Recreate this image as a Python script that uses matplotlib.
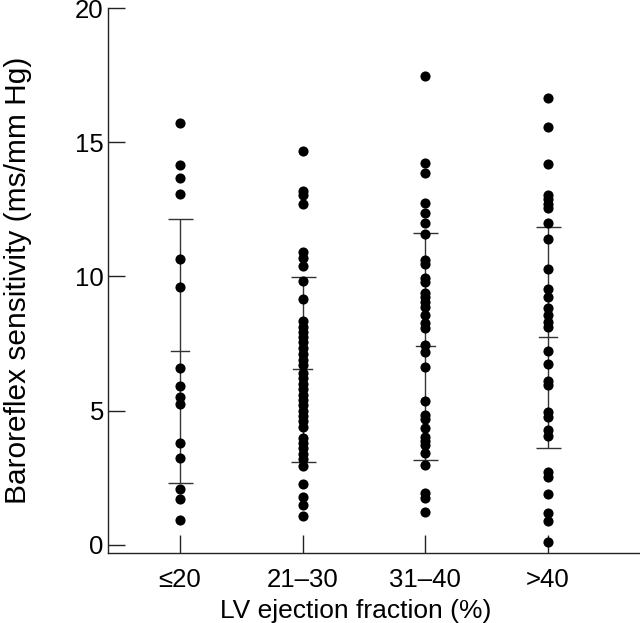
import matplotlib
matplotlib.use("Agg")
import matplotlib.pyplot as plt
import numpy as np

plt.rcParams['font.family'] = ['Liberation Sans', 'DejaVu Sans']

categories = ["≤20", "21–30", "31–40", ">40"]

group_le20 = [15.73, 14.14, 13.66, 13.06, 10.64, 9.62, 6.58, 5.92, 5.50, 5.24,
              3.81, 3.23, 2.07, 1.71, 0.93]
group_21_30 = [14.67, 13.20, 13.05, 12.70, 10.92, 10.68, 10.39, 9.83, 9.16, 8.34,
               8.13, 7.95, 7.75, 7.55, 7.35, 7.10, 6.90, 6.70, 6.40, 6.20,
               6.00, 5.80, 5.60, 5.40, 5.20, 5.00, 4.80, 4.60, 4.40, 4.00,
               3.80, 3.60, 3.40, 3.20, 2.94, 2.27, 1.80, 1.49, 1.08]
group_31_40 = [17.48, 14.21, 13.87, 12.73, 12.35, 11.98, 11.60, 10.61, 10.47, 9.93,
               9.81, 9.37, 9.25, 9.06, 8.88, 8.57, 8.26, 8.07, 7.45, 7.20,
               6.62, 5.37, 4.84, 4.68, 4.35, 4.01, 3.88, 3.72, 3.41, 2.98,
               1.93, 1.74, 1.24]
group_gt40 = [16.64, 15.58, 14.18, 13.04, 12.87, 12.70, 12.54, 12.00, 11.39, 10.27,
              9.52, 9.25, 8.84, 8.57, 8.32, 8.13, 7.24, 6.73, 6.11, 5.96,
              4.97, 4.76, 4.28, 4.07, 2.73, 2.54, 1.89, 1.20, 0.89, 0.12]

means = [7.22, 6.54, 7.40, 7.73]
sds = [4.92, 3.45, 4.23, 4.13]

groups = [group_le20, group_21_30, group_31_40, group_gt40]

fig = plt.figure(figsize=(6.4, 6.23), dpi=100)
ax = fig.add_axes([108/640, 70/623, 1 - 108/640, (615 - 70)/623])

positions = np.arange(1, len(categories) + 1)

for pos, vals, m, s in zip(positions, groups, means, sds):
    ax.errorbar([pos], [m], yerr=[[s], [s]], fmt='none', ecolor='#333333',
                elinewidth=1.0, capsize=9, capthick=1.0, zorder=1)
    ax.plot([pos - 0.075, pos + 0.075], [m, m], color='#333333', lw=1.0, zorder=1)
    ax.plot(np.full(len(vals), pos), vals, 'o', color='black', markersize=7.3,
            markeredgewidth=0, zorder=2)

ax.set_xlim(0.413, 4.75)
ax.set_ylim(-0.3, 20)
ax.set_xticks(positions)
ax.set_xticklabels(categories)
ax.set_yticks([0, 5, 10, 15, 20])

for side in ['top', 'right']:
    ax.spines[side].set_visible(False)
ax.spines['left'].set_bounds(-0.3, 20)
for side in ['left', 'bottom']:
    ax.spines[side].set_linewidth(1.0)
    ax.spines[side].set_color('#222222')

ax.tick_params(axis='y', direction='in', length=12, width=1.0, pad=3,
               labelsize=18.5, colors='#222222', labelcolor='black')
ax.tick_params(axis='x', direction='in', length=13, width=1.0, pad=11,
               labelsize=18.5, colors='#222222', labelcolor='black')

ax.set_xlabel("LV ejection fraction (%)", fontsize=19, labelpad=4)
ax.xaxis.set_label_coords(0.465, -0.085)
ax.set_ylabel("Baroreflex sensitivity (ms/mm Hg)", fontsize=21.5, labelpad=31)

fig.savefig("out.png", dpi=100)
